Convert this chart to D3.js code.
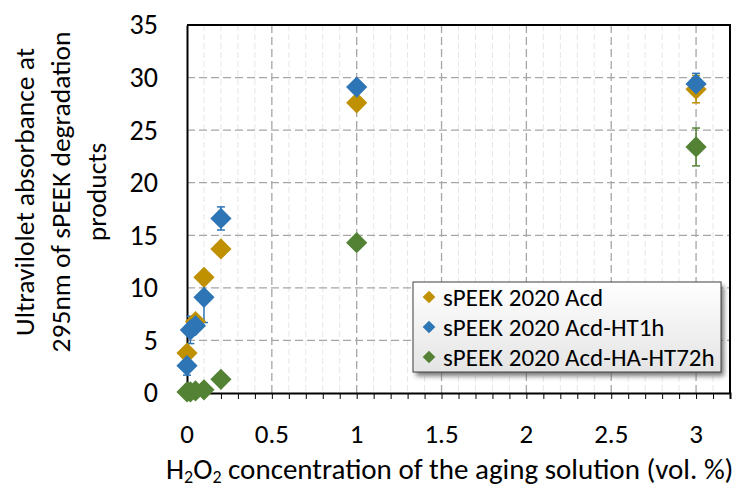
<!DOCTYPE html>
<html>
<head>
<meta charset="utf-8">
<script src="https://cdn.jsdelivr.net/npm/d3@7"></script>
<style>
  html, body { margin: 0; padding: 0; background: #fff; }
  svg text { font-family: Carlito, Calibri, Lato, "Open Sans", sans-serif; fill: #000; }
</style>
</head>
<body>
<svg id="chart" width="741" height="491"></svg>
<script>
// ---- data ----
const seriesNames = ["sPEEK 2020 Acd", "sPEEK 2020 Acd-HT1h", "sPEEK 2020 Acd-HA-HT72h"];
const seriesColors = ["#BF9000", "#2E75B6", "#548235"];

const acdX   = [0, 0.05, 0.1, 0.2, 1, 3];
const acdY   = [3.8, 6.8, 11.0, 13.7, 27.6, 28.9];
const acdErr = [0.3, 0.3, 0.3, 0.3, 0.3, 1.3];

const ht1hX   = [0, 0.02, 0.05, 0.1, 0.2, 1, 3];
const ht1hY   = [2.6, 6.0, 6.4, 9.1, 16.6, 29.1, 29.4];
const ht1hErr = [0.9, 1.3, 0.3, 2.4, 1.1, 0.3, 1.0];

const ht72X   = [0, 0.02, 0.05, 0.1, 0.2, 1, 3];
const ht72Y   = [0.1, 0.1, 0.2, 0.3, 1.3, 14.3, 23.4];
const ht72Err = [0.1, 0.1, 0.1, 0.1, 0.2, 0.3, 1.8];

const xTicks = [0, 0.5, 1, 1.5, 2, 2.5, 3];
const yTicks = [0, 5, 10, 15, 20, 25, 30, 35];
const xTitleParts = [["H", 0], ["2", 1], ["O", 0], ["2", 1], [" concentration of the aging solution (vol. %)", 0]];
const yTitleLines = ["Ultravilolet absorbance at", "295nm of sPEEK degradation", "products"];

const series = [
  { x: acdX, y: acdY, e: acdErr },
  { x: ht1hX, y: ht1hY, e: ht1hErr },
  { x: ht72X, y: ht72Y, e: ht72Err }
];

// ---- layout ----
const svg = d3.select("#chart");
const L = 187, T = 25, R = 730, B = 393;
const x = d3.scaleLinear().domain([0, 3.2]).range([L, R]);
const y = d3.scaleLinear().domain([0, 35]).range([B, T]);

// minor vertical gridlines
const minorX = d3.range(1, 32).map(i => i / 10).filter(v => Math.abs(v * 2 - Math.round(v * 2)) > 1e-6);
svg.append("g").selectAll("line").data(minorX).join("line")
  .attr("x1", d => x(d)).attr("x2", d => x(d)).attr("y1", T).attr("y2", B)
  .attr("stroke", "#E6E6E6").attr("stroke-width", 1).attr("stroke-dasharray", "6,3");

// major gridlines
svg.append("g").selectAll("line").data(xTicks.filter(d => d > 0)).join("line")
  .attr("x1", d => x(d)).attr("x2", d => x(d)).attr("y1", T).attr("y2", B)
  .attr("stroke", "#A6A6A6").attr("stroke-width", 1.3).attr("stroke-dasharray", "8,4");
svg.append("g").selectAll("line").data(yTicks.filter(d => d > 0 && d < 35)).join("line")
  .attr("x1", L).attr("x2", R).attr("y1", d => y(d)).attr("y2", d => y(d))
  .attr("stroke", "#A6A6A6").attr("stroke-width", 1.3).attr("stroke-dasharray", "8,4");

// frame (top & right)
svg.append("path").attr("d", `M${L},${T}H${R}V${B}`).attr("fill", "none")
  .attr("stroke", "#000").attr("stroke-width", 2);

// x axis with minor ticks every 0.1
const xAxis = d3.axisBottom(x).tickValues(d3.range(0, 33).map(i => i / 10)).tickSize(6).tickFormat("");
const gx = svg.append("g").attr("transform", `translate(0,${B})`).call(xAxis);
gx.select(".domain").attr("stroke", "#000").attr("stroke-width", 2);
gx.selectAll(".tick line").attr("stroke", "#000").attr("stroke-width", 1);
svg.append("g").selectAll("text").data(xTicks).join("text")
  .attr("x", d => x(d)).attr("y", 443).attr("text-anchor", "middle")
  .attr("font-size", 27).text(d => d);

// y axis
const yAxis = d3.axisLeft(y).tickValues(yTicks).tickSize(0).tickPadding(29).tickFormat(d => d);
const gy = svg.append("g").attr("transform", `translate(${L},0)`).call(yAxis);
gy.select(".domain").attr("stroke", "#000").attr("stroke-width", 2);
gy.selectAll(".tick text").attr("font-size", 28).attr("font-family", "Carlito, Calibri, Lato, sans-serif").attr("fill", "#000");

// axis titles
const xt = svg.append("text").attr("x", 166).attr("y", 479).attr("font-size", 29);
let prevSub = 0;
xTitleParts.forEach(([t, sub]) => {
  const dy = (sub - prevSub) * 4;
  xt.append("tspan").text(t).attr("font-size", sub ? 18 : 29).attr("dy", dy);
  prevSub = sub;
});
const yt = svg.append("text").attr("transform", "rotate(-90)").attr("text-anchor", "middle").attr("font-size", 27.5);
yTitleLines.forEach((t, i) => {
  yt.append("tspan").attr("x", -192).attr("y", 34 + i * 36).text(t);
});

// error bars first
series.forEach((s, si) => {
  const g = svg.append("g").attr("stroke", seriesColors[si]).attr("stroke-width", 1.5);
  s.x.forEach((xv, i) => {
    const yv = s.y[i], e = s.e[i];
    g.append("line").attr("x1", x(xv)).attr("x2", x(xv)).attr("y1", y(yv - e)).attr("y2", y(yv + e));
    [yv - e, yv + e].forEach(v => g.append("line").attr("x1", x(xv) - 4).attr("x2", x(xv) + 4).attr("y1", y(v)).attr("y2", y(v)));
  });
});
// markers
series.forEach((s, si) => {
  svg.append("g").selectAll("path").data(s.x.map((xv, i) => [xv, s.y[i]])).join("path")
    .attr("transform", d => `translate(${x(d[0])},${y(d[1])}) rotate(45)`)
    .attr("d", d3.symbol().type(d3.symbolSquare).size(15 * 15)())
    .attr("fill", seriesColors[si]);
});

// legend
const defs = svg.append("defs");
const grad = defs.append("linearGradient").attr("id", "lg").attr("x1", 0).attr("y1", 0).attr("x2", 0).attr("y2", 1);
grad.append("stop").attr("offset", "0%").attr("stop-color", "#FFFFFF");
grad.append("stop").attr("offset", "100%").attr("stop-color", "#E4E4E4");
const filt = defs.append("filter").attr("id", "sh").attr("x", "-10%").attr("y", "-10%").attr("width", "130%").attr("height", "140%");
filt.append("feGaussianBlur").attr("stdDeviation", 2.5);
const lx = 413, ly = 282, lw = 308, lh = 90;
svg.append("rect").attr("x", lx + 3).attr("y", ly + 4).attr("width", lw).attr("height", lh)
  .attr("fill", "#555").attr("opacity", 0.8).attr("filter", "url(#sh)");
svg.append("rect").attr("x", lx).attr("y", ly).attr("width", lw).attr("height", lh)
  .attr("fill", "url(#lg)").attr("stroke", "#404040").attr("stroke-width", 1);
seriesNames.forEach((n, i) => {
  const cy = 297 + i * 30;
  svg.append("path").attr("transform", `translate(429,${cy}) rotate(45)`)
    .attr("d", d3.symbol().type(d3.symbolSquare).size(9 * 9)()).attr("fill", seriesColors[i]);
  svg.append("text").attr("x", 443).attr("y", cy + 9).attr("font-size", 25).text(n);
});
</script>
</body>
</html>
